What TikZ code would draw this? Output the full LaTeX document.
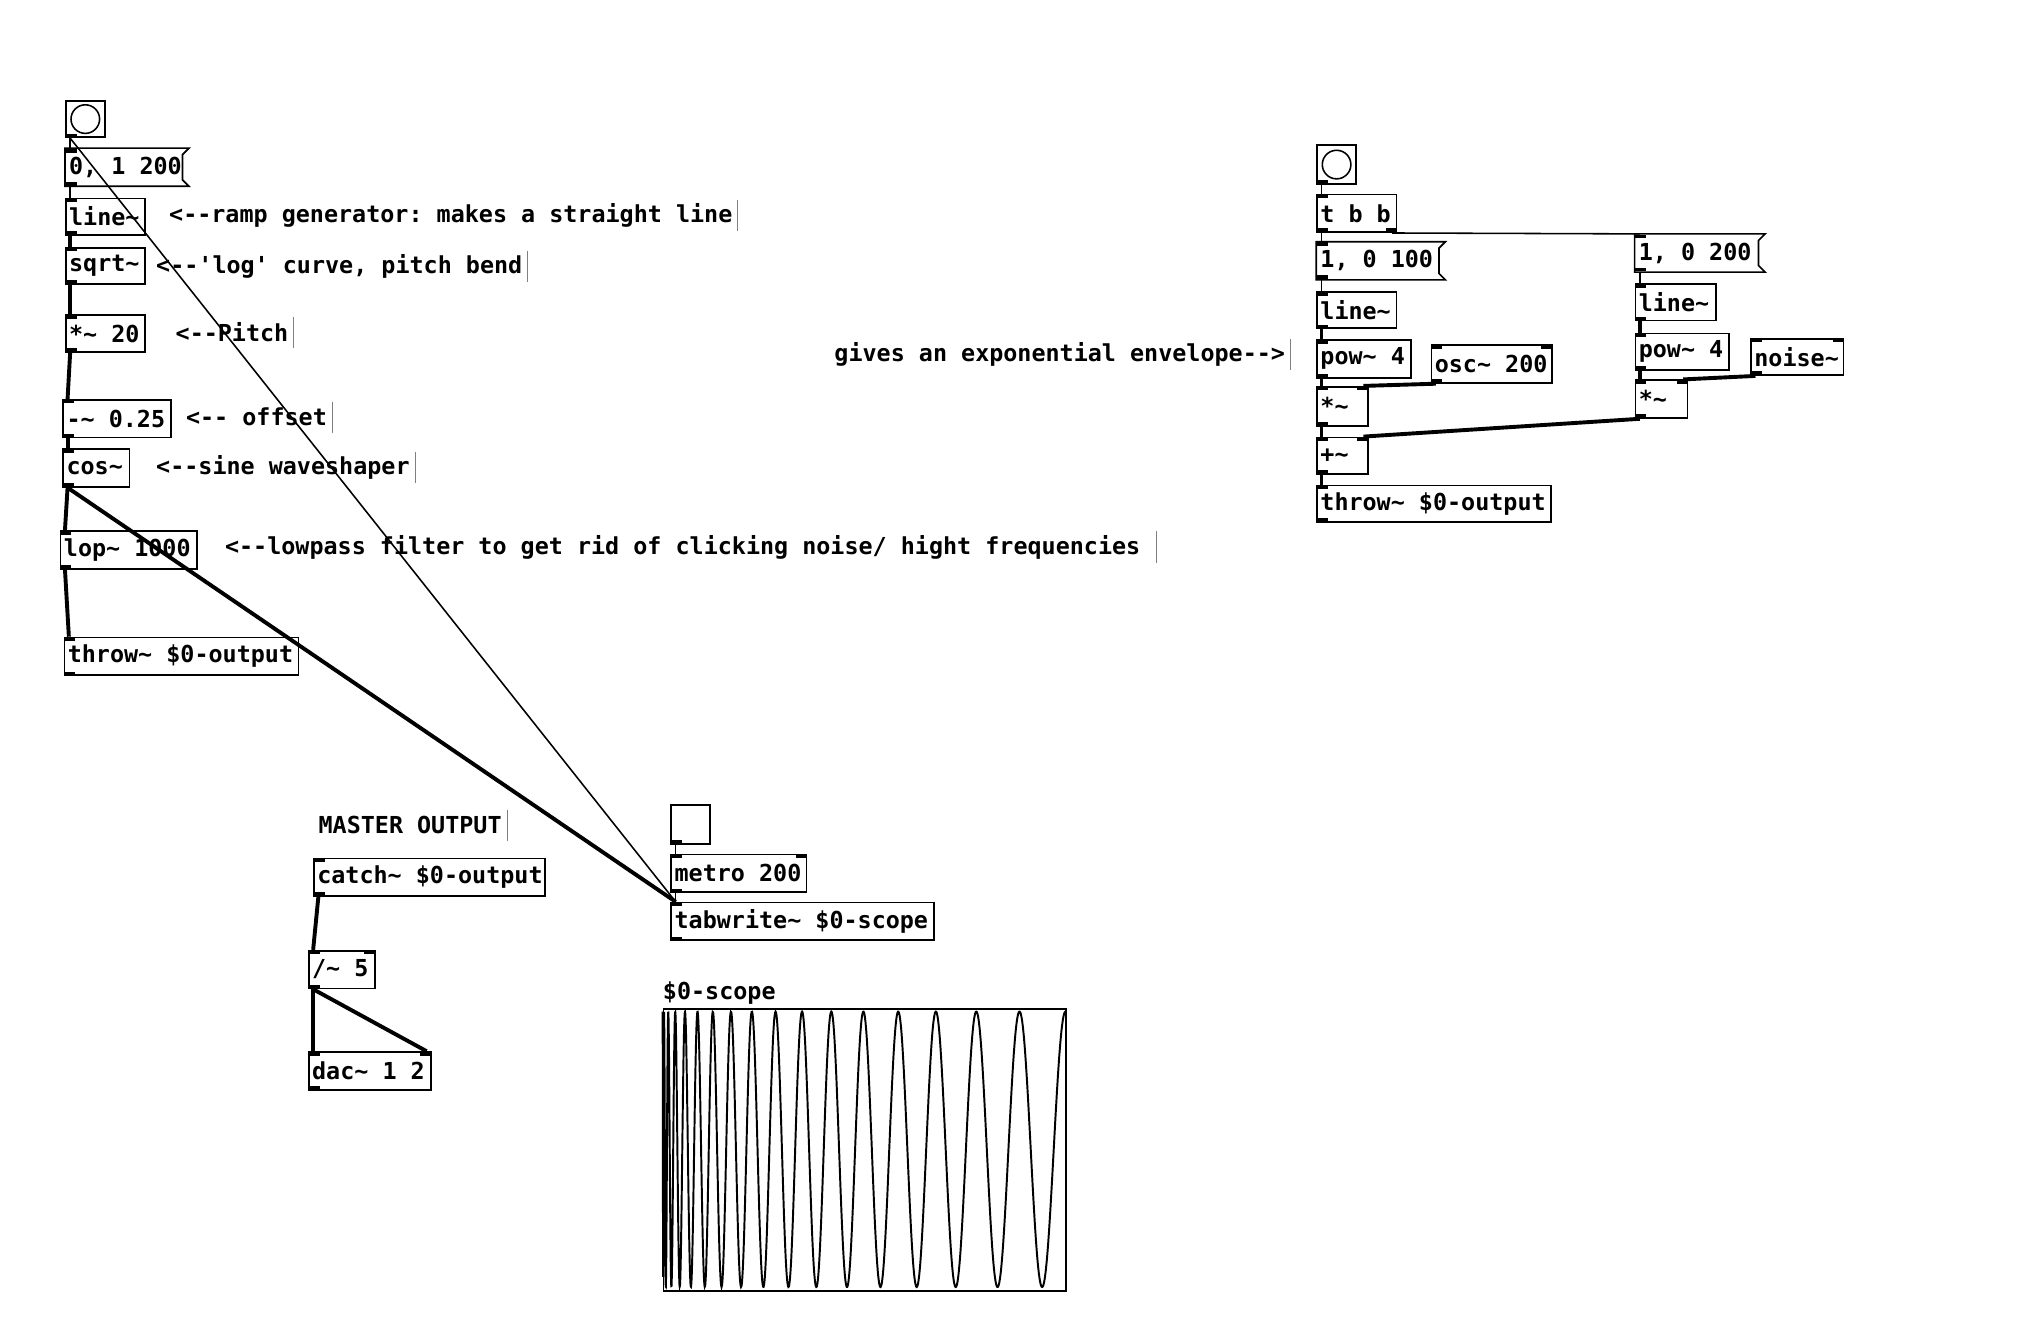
\documentclass[tikz,border=0pt]{standalone}
\usepackage{fontspec}
\setmonofont{DejaVu Sans Mono}
\begin{document}
\begin{tikzpicture}[x=1pt,y=-1pt,
  box/.style={draw,line width=1.3pt,inner sep=0pt,anchor=north west},
  msgb/.style={draw=none,inner sep=0pt,anchor=north west},
  txt/.style={font=\ttfamily\bfseries\fontsize{18}{20}\selectfont,inner sep=0pt,anchor=west},
  ctl/.style={line width=1.2pt},
  sig/.style={line width=3pt},
  bar/.style={line width=0.8pt,gray}]
\useasboundingbox[fill=white] (0,0) rectangle (1560,1021);
\newcommand\pdo[6]{\node[box,minimum width={(#4-#2)*1pt},minimum height={(#5-#3)*1pt}] (#1) at (#2,#3) {};
  \fill ([yshift=-0.5pt]#1.north west) rectangle ++(9,3);
  \fill ([yshift=0.5pt]#1.south west) rectangle ++(9,-3);
  \node[txt] at ([xshift=3pt]#1.west) {#6};}
\newcommand\pdm[6]{\node[msgb,minimum width={(#4-#2)*1pt},minimum height={(#5-#3)*1pt}] (#1) at (#2,#3) {};
  \draw[line width=1.3pt] (#1.north east) -- (#1.north west) -- (#1.south west) -- (#1.south east) -- ++(-5,-5) -- ([xshift=-5pt,yshift=-5pt]#1.north east) -- cycle;
  \fill ([yshift=-0.5pt]#1.north west) rectangle ++(9,3);
  \fill ([yshift=0.5pt]#1.south west) rectangle ++(9,-3);
  \node[txt] at ([xshift=3pt]#1.west) {#6};}
\newcommand\pdc[4]{\node[txt] (#1) at (#2,#3) {#4};
  \draw[bar] ([xshift=4pt,yshift=12pt]#1.east) -- ++(0,24);}
% left chain
\node[box,minimum width=30pt,minimum height=28pt] (bang1) at (50,77) {};
\draw[line width=1.2pt] (bang1.center) circle (11);
\fill ([yshift=0.5pt]bang1.south west) rectangle ++(9,-3);
\pdm{msg1}{50}{114}{145}{143}{0, 1 200}
\pdo{line1}{50}{152}{111}{180}{line\textasciitilde}
\pdo{sqrt}{50}{190}{111}{218}{sqrt\textasciitilde}
\pdo{mul20}{50}{242}{111}{270}{*\textasciitilde{} 20}
\pdo{sub}{48}{307}{131}{336}{-\textasciitilde{} 0.25}
\pdo{cos}{48}{345}{99}{374}{cos\textasciitilde}
\pdo{lop}{46}{408}{151}{437}{lop\textasciitilde{} 1000}
\pdo{throw1}{49}{490}{229}{519}{throw\textasciitilde{} \$0-output}
\pdc{c1}{130}{166}{<--ramp generator: makes a straight line}
\pdc{c2}{120}{205}{<--'log' curve, pitch bend}
\pdc{c3}{135}{256}{<--Pitch}
\pdc{c4}{143}{321}{<-- offset}
\pdc{c5}{120}{360}{<--sine waveshaper}
\node[txt] (c6) at (173,421) {<--lowpass filter to get rid of clicking noise/ hight frequencies};
\draw[bar] (890,409) -- (890,433);
\pdc{c7}{245}{635}{MASTER OUTPUT}
\pdo{catch}{241}{660}{419}{689}{catch\textasciitilde{} \$0-output}
\pdo{div}{237}{731}{288}{760}{/\textasciitilde{} 5}
\pdo{dac}{237}{809}{331}{838}{dac\textasciitilde{} 1 2}
\fill ([yshift=-0.5pt,xshift=-9pt]div.north east) rectangle ++(9,3);
\fill ([yshift=-0.5pt,xshift=-9pt]dac.north east) rectangle ++(9,3);
\node[box,minimum width=30pt,minimum height=30pt] (tgl) at (516,619) {};
\fill ([yshift=0.5pt]tgl.south west) rectangle ++(9,-3);
\pdo{metro}{516}{657}{620}{686}{metro 200}
\fill ([yshift=-0.5pt,xshift=-9pt]metro.north east) rectangle ++(9,3);
\pdo{tab}{516}{694}{718}{723}{tabwrite\textasciitilde{} \$0-scope}
\node[txt] (scl) at (510,764) {\$0-scope};
\node[box,minimum width=310pt,minimum height=217pt] (scope) at (510,776) {};
\draw[line width=1.5pt] plot[domain=0:1,samples=900,smooth] ({510+310*\x},{884.5-106*cos(360*17*sqrt(\x))});
% right
\node[box,minimum width=30pt,minimum height=30pt] (bang2) at (1013,111) {};
\draw[line width=1.2pt] (bang2.center) circle (11);
\fill ([yshift=0.5pt]bang2.south west) rectangle ++(9,-3);
\pdo{tbb}{1013}{149}{1074}{178}{t b b}
\fill ([yshift=0.5pt,xshift=-9pt]tbb.south east) rectangle ++(9,-3);
\pdm{m100}{1013}{186}{1112}{215}{1, 0 100}
\pdo{line2}{1013}{224}{1074}{252}{line\textasciitilde}
\pdo{pow1}{1013}{261}{1085}{290}{pow\textasciitilde{} 4}
\pdo{osc}{1101}{265}{1194}{294}{osc\textasciitilde{} 200}
\pdo{mul1}{1013}{297}{1052}{327}{*\textasciitilde}
\pdo{add}{1013}{336}{1052}{364}{+\textasciitilde}
\pdo{throw2}{1013}{373}{1193}{401}{throw\textasciitilde{} \$0-output}
\pdm{m200}{1258}{180}{1358}{209}{1, 0 200}
\pdo{line3}{1258}{218}{1320}{246}{line\textasciitilde}
\pdo{pow2}{1258}{256}{1330}{284}{pow\textasciitilde{} 4}
\pdo{noise}{1347}{260}{1418}{288}{noise\textasciitilde}
\pdo{mul2}{1258}{292}{1298}{321}{*\textasciitilde}
\foreach \n in {mul1,add,mul2,osc,noise} {\fill ([yshift=-0.5pt,xshift=-9pt]\n.north east) rectangle ++(9,3);}
\pdc{c8}{642}{273}{gives an exponential envelope-->}
% connections
\draw[ctl] ([xshift=4pt]bang1.south west) -- ([xshift=4pt]msg1.north west);
\draw[ctl] ([xshift=4pt]msg1.south west) -- ([xshift=4pt]line1.north west);
\draw[ctl] ([xshift=4pt]bang1.south west) -- ([xshift=4pt]tab.north west);
\draw[sig] ([xshift=4pt]line1.south west) -- ([xshift=4pt]sqrt.north west);
\draw[sig] ([xshift=4pt]sqrt.south west) -- ([xshift=4pt]mul20.north west);
\draw[sig] ([xshift=4pt]mul20.south west) -- ([xshift=4pt]sub.north west);
\draw[sig] ([xshift=4pt]sub.south west) -- ([xshift=4pt]cos.north west);
\draw[sig] ([xshift=4pt]cos.south west) -- ([xshift=4pt]lop.north west);
\draw[sig] ([xshift=4pt]lop.south west) -- ([xshift=4pt]throw1.north west);
\draw[sig] ([xshift=4pt]cos.south west) -- ([xshift=4pt]tab.north west);
\draw[sig] ([xshift=4pt]catch.south west) -- ([xshift=4pt]div.north west);
\draw[sig] ([xshift=4pt]div.south west) -- ([xshift=4pt]dac.north west);
\draw[sig] ([xshift=4pt]div.south west) -- ([xshift=-4pt]dac.north east);
\draw[ctl] ([xshift=4pt]tgl.south west) -- ([xshift=4pt]metro.north west);
\draw[ctl] ([xshift=4pt]metro.south west) -- ([xshift=4pt]tab.north west);
\draw[ctl] ([xshift=4pt]bang2.south west) -- ([xshift=4pt]tbb.north west);
\draw[ctl] ([xshift=4pt]tbb.south west) -- ([xshift=4pt]m100.north west);
\draw[ctl] ([xshift=-4pt]tbb.south east) -- ([xshift=4pt]m200.north west);
\draw[ctl] ([xshift=4pt]m100.south west) -- ([xshift=4pt]line2.north west);
\draw[sig] ([xshift=4pt]line2.south west) -- ([xshift=4pt]pow1.north west);
\draw[sig] ([xshift=4pt]pow1.south west) -- ([xshift=4pt]mul1.north west);
\draw[sig] ([xshift=4pt]osc.south west) -- ([xshift=-4pt]mul1.north east);
\draw[sig] ([xshift=4pt]mul1.south west) -- ([xshift=4pt]add.north west);
\draw[sig] ([xshift=4pt]add.south west) -- ([xshift=4pt]throw2.north west);
\draw[ctl] ([xshift=4pt]m200.south west) -- ([xshift=4pt]line3.north west);
\draw[sig] ([xshift=4pt]line3.south west) -- ([xshift=4pt]pow2.north west);
\draw[sig] ([xshift=4pt]pow2.south west) -- ([xshift=4pt]mul2.north west);
\draw[sig] ([xshift=4pt]noise.south west) -- ([xshift=-4pt]mul2.north east);
\draw[sig] ([xshift=4pt]mul2.south west) -- ([xshift=-4pt]add.north east);
\end{tikzpicture}
\end{document}
